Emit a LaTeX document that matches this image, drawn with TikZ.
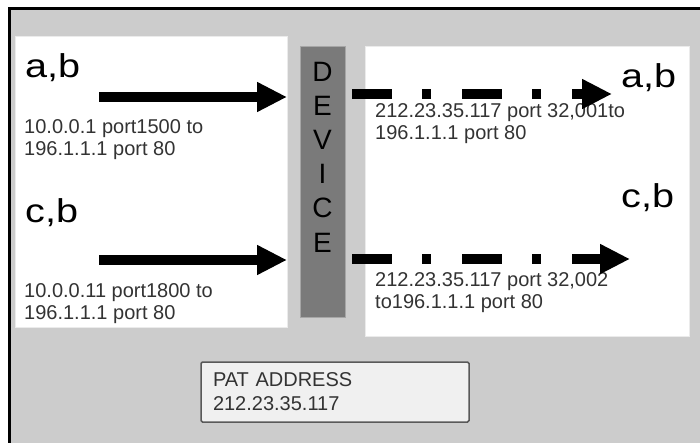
\documentclass[tikz,border=0pt]{standalone}
\usepackage{fontspec}
\setmainfont{Liberation Sans}
\newfontfamily\widefont[FakeStretch=1.2]{Liberation Sans}
\usetikzlibrary{arrows.meta}

\begin{document}
\begin{tikzpicture}[x=1pt, y=-1pt,
	panel/.style={fill=white, draw=black!8, line width=1pt},
	devbox/.style={fill=black!52, draw=black!35, line width=1pt, minimum width=45pt, minimum height=270pt, inner sep=0pt},
	devtxt/.style={font=\fontsize{28}{34}\selectfont, align=center, inner sep=0pt, anchor=base},
	biglbl/.style={font=\widefont\fontsize{33}{36}\selectfont, inner sep=0pt, anchor=base west},
	smalltxt/.style={font=\fontsize{20}{22}\selectfont, text=black!80, align=left, inner sep=0pt, anchor=base west},
	patbox/.style={fill=black!6, draw=black!65, line width=1.5pt, rounded corners=1.5pt, minimum height=60pt, text width=244pt, inner xsep=12pt, inner ysep=0pt, align=left, font=\fontsize{20}{24}\selectfont, text=black!80},
	inarrow/.style={line width=10pt, shorten >=12.5pt, -{Triangle[length=30pt, width=28pt]}},
	outarrow/.style={line width=10pt, dash pattern=on 40pt off 30pt on 9pt off 31pt, shorten <=6.5pt, -{Triangle[length=30pt, width=28pt]}}]

	\useasboundingbox (0,0) rectangle (700,443);
	\fill[black!20] (9,9) rectangle (700,443);
	\draw[line width=3pt] (9,443) -- (9,9) -- (700,9);

	\draw[panel] (15,37) rectangle (287,327);
	\draw[panel] (365,47) rectangle (689,336);

\node[devbox] (dev) at (322.5,182) {};
% base is the last line
\node[devtxt] (devlbl) at (322.5,252) {D\\E\\V\\I\\C\\E};

% inside
\node[biglbl] (ab) at (25,78) {a,b};
\node[smalltxt] (abtxt) at (24,156) {10.0.0.1 port1500 to\\196.1.1.1 port 80};
\node[biglbl] (cb) at (25,223) {c,b};
\node[smalltxt] (cbtxt) at (24,319) {10.0.0.11 port1800 to\\196.1.1.1 port 80};

% outside
\node[biglbl] (about) at (621,88) {a,b};
\node[smalltxt] (abouttxt) at (375,140) {212.23.35.117 port 32,001to\\196.1.1.1 port 80};
\node[biglbl] (cbout) at (621,208) {c,b};
\node[smalltxt] (cbouttxt) at (375,308) {212.23.35.117 port 32,002\\to196.1.1.1 port 80};

\node[patbox] (pat) at (335,392) {PAT ADDRESS\\212.23.35.117};

	\coordinate (ab in) at (99,97);
	\coordinate (cb in) at (99,260);
	\coordinate (ab end) at (612,94);
	\coordinate (cb end) at (630,259);

\draw[inarrow] (ab in) -- (ab in -| dev.west);
\draw[inarrow] (cb in) -- (cb in -| dev.west);
\draw[outarrow] (dev.east |- ab end) -- (ab end);
\draw[outarrow] (dev.east |- cb end) -- (cb end);

\end{tikzpicture}
\end{document}
